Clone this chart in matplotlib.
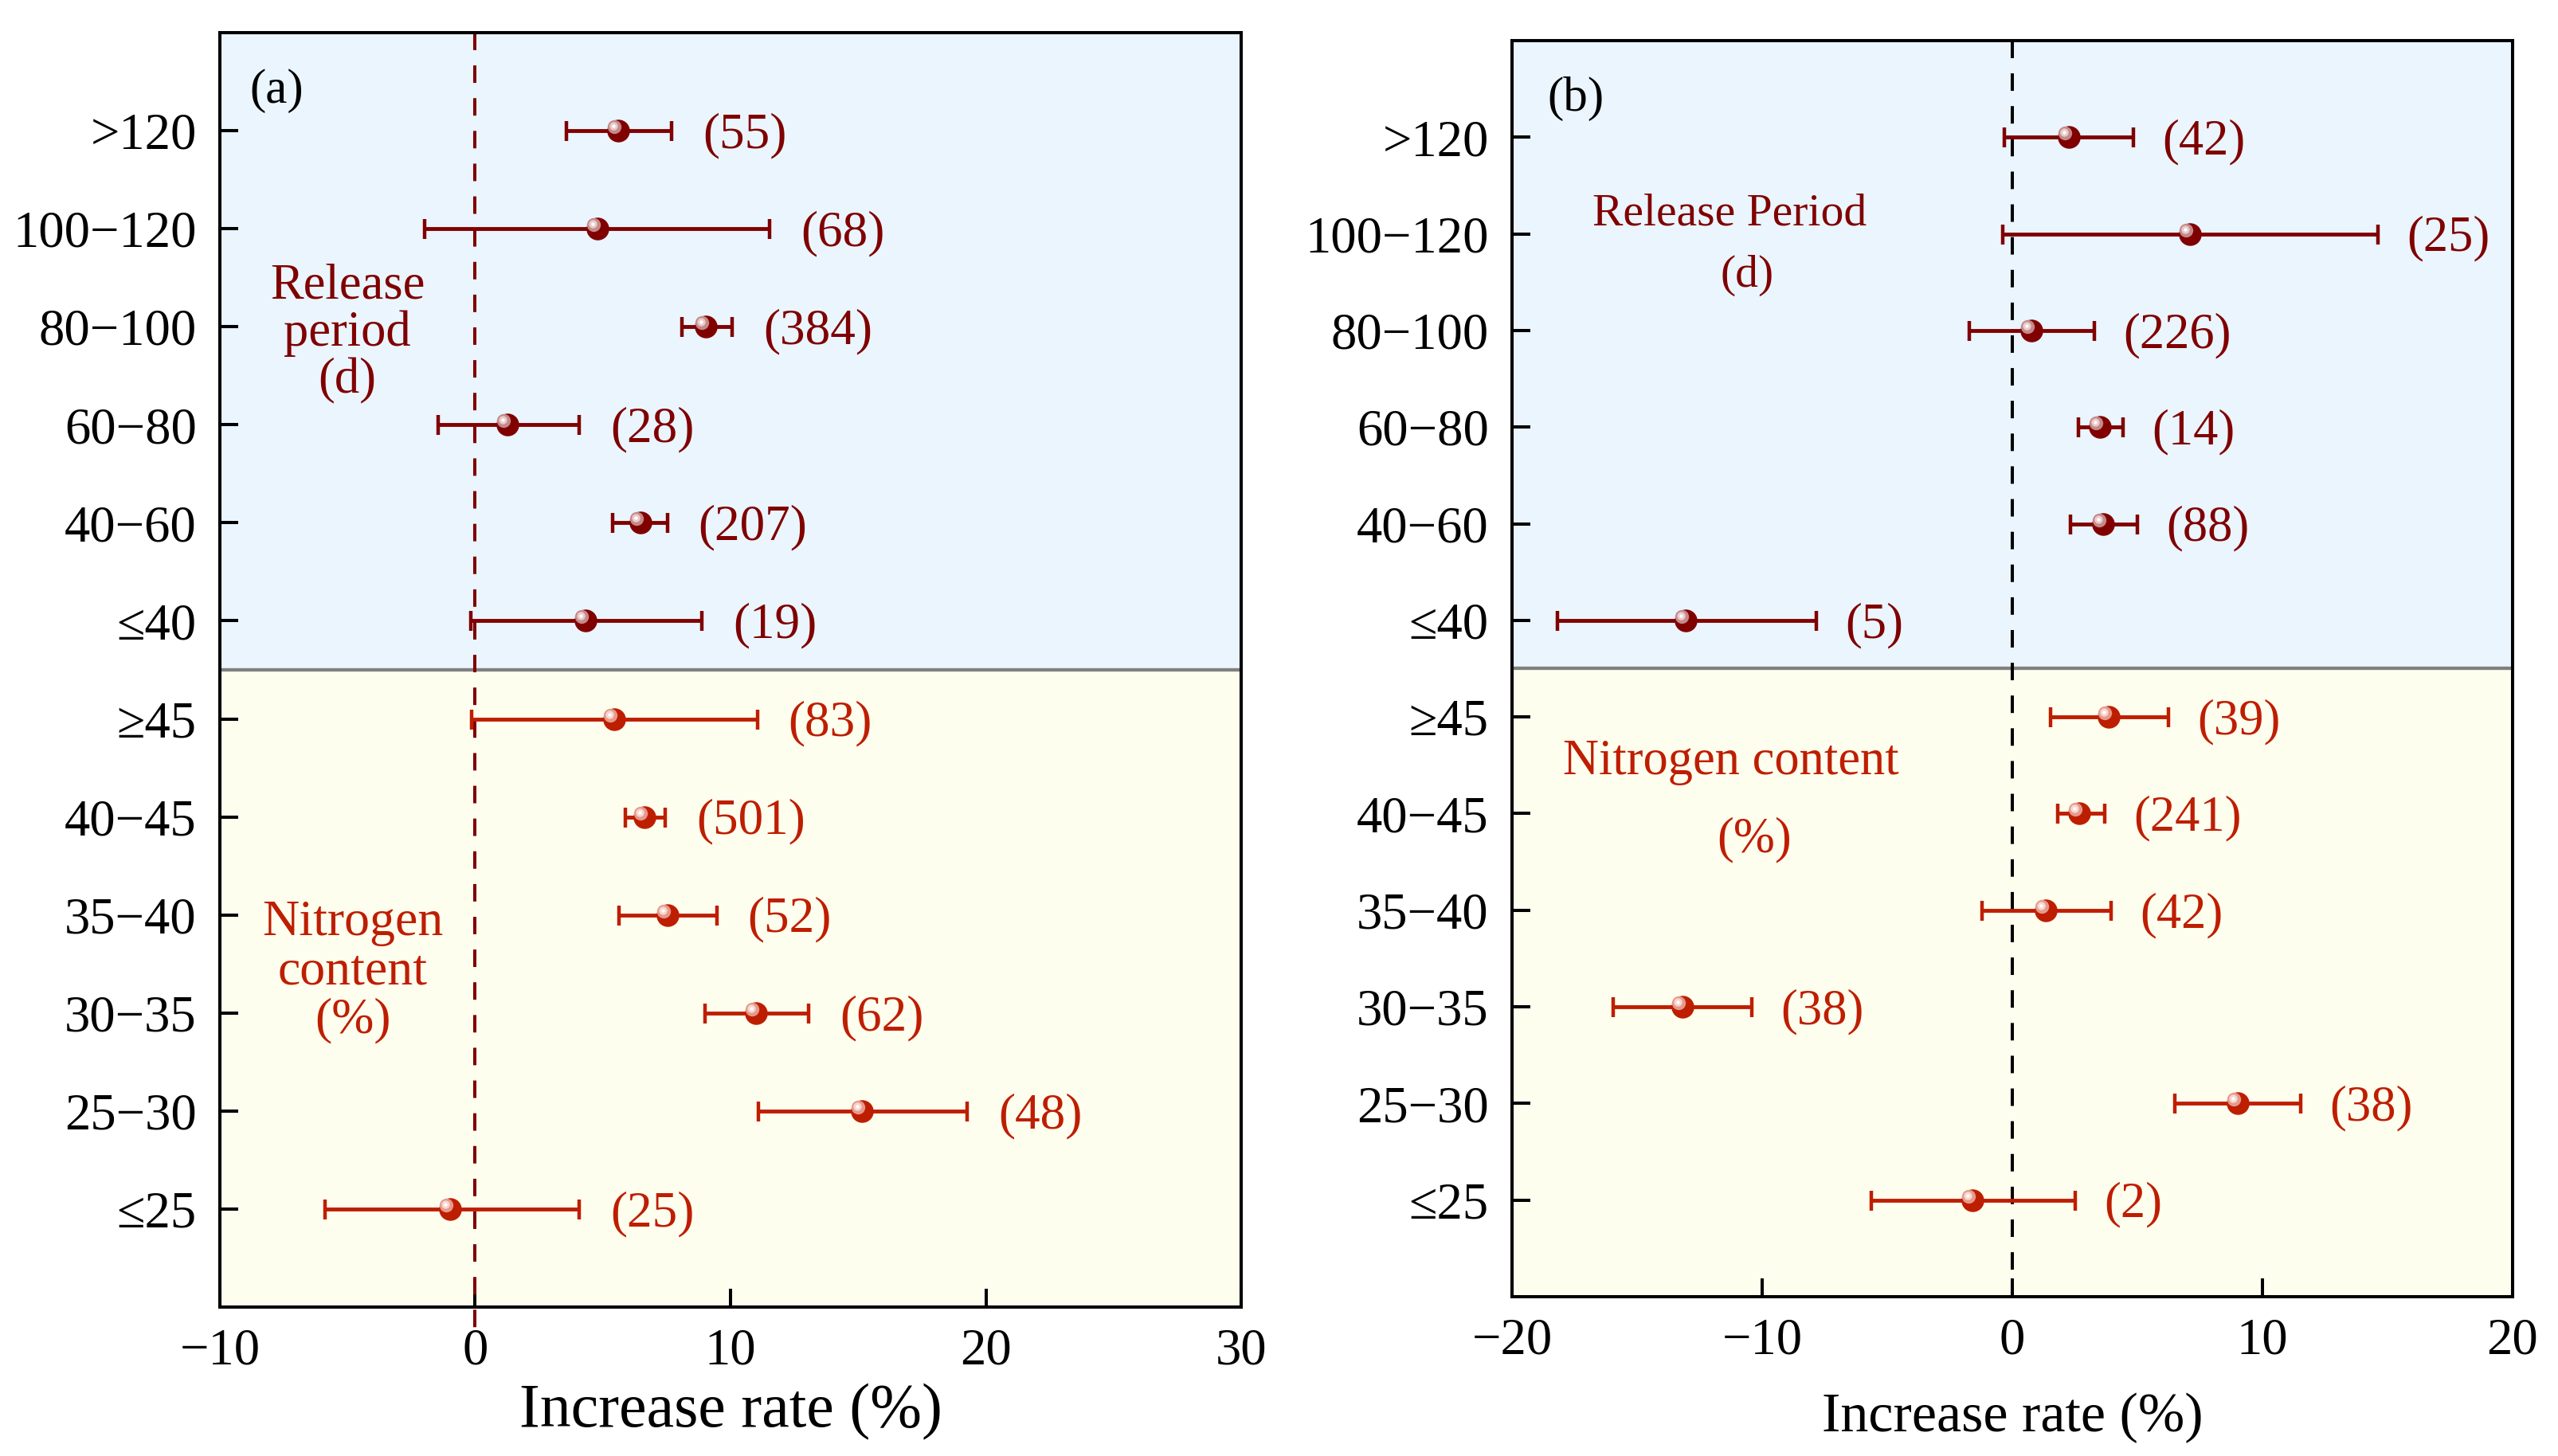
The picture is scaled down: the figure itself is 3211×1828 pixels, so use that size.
import matplotlib
matplotlib.use("Agg")
import matplotlib.pyplot as plt
from matplotlib.transforms import offset_copy
import numpy as np

plt.rcParams['font.family'] = ['Liberation Serif', 'DejaVu Serif']
plt.rcParams['lines.scale_dashes'] = False
plt.rcParams['axes.unicode_minus'] = True

# ---------------- data ----------------
categories = [">120", "100\u2212120", "80\u2212100", "60\u221280", "40\u221260", "\u226440",
              "\u226545", "40\u221245", "35\u221240", "30\u221235", "25\u221230", "\u226425"]

mean_a = [5.60, 4.78, 9.04, 1.27, 6.46, 4.33, 5.45, 6.62, 7.52, 10.99, 15.16, -0.99]
low_a = [3.57, -1.97, 8.09, -1.46, 5.38, -0.16, -0.13, 5.89, 5.64, 9.01, 11.08, -5.89]
high_a = [7.70, 11.53, 10.06, 4.08, 7.52, 8.89, 11.05, 7.45, 9.46, 13.06, 19.27, 4.08]
n_a = [55, 68, 384, 28, 207, 19, 83, 501, 52, 62, 48, 25]

mean_b = [2.26, 7.10, 0.75, 3.50, 3.63, -13.06, 3.86, 2.68, 1.34, -13.19, 9.00, -1.60]
low_b = [-0.33, -0.39, -1.73, 2.65, 2.32, -18.20, 1.54, 1.83, -1.21, -15.94, 6.51, -5.63]
high_b = [4.84, 14.63, 3.27, 4.42, 5.01, -7.82, 6.25, 3.70, 3.96, -10.41, 11.52, 2.52]
n_b = [42, 25, 226, 14, 88, 5, 39, 241, 42, 38, 38, 2]

groups = ["release"] * 6 + ["nitrogen"] * 6

# ---------------- style ----------------
C_REL = "#800000"
C_NIT = "#BE1E00"
HL_REL = ("#C48A8A", "#EBCACA")
HL_NIT = ("#E59A8C", "#F8D6CE")
BG_TOP = "#EAF5FE"
BG_BOT = "#FEFEEF"

W, H, DPI = 32.12, 18.28, 100
fig = plt.figure(figsize=(W, H), dpi=DPI)

ax_a = fig.add_axes([276 / 3212, 1 - 1641 / 1828, (1558 - 276) / 3212, (1641 - 41) / 1828])
ax_b = fig.add_axes([1898 / 3212, 1 - 1628 / 1828, (3154 - 1898) / 3212, (1628 - 51) / 1828])

ypos = np.arange(len(categories))[::-1]


def draw_panel(ax, mean, low, high, ns, xlim, xticks, zero_color, zero_extend,
               label_gap_pt, label_size, tag, tag_xy, xlabel_size, xlabel_y):
    mean = np.asarray(mean)
    low = np.asarray(low)
    high = np.asarray(high)
    ax.set_xlim(*xlim)
    ax.set_ylim(-1, 12)
    ax.axhspan(5.5, 12, color=BG_TOP, zorder=0, lw=0)
    ax.axhspan(-1, 5.5, color=BG_BOT, zorder=0, lw=0)
    ax.axhline(5.5, color="#808080", lw=3.1, zorder=1)

    # zero line
    ybot = -1 - zero_extend
    ax.plot([0, 0], [12, ybot], color=zero_color, lw=2.9, dashes=(15.8, 13.8),
            zorder=2, clip_on=False)

    hl_tr1 = offset_copy(ax.transData, fig=fig, x=-5, y=5, units="dots")
    hl_tr2 = offset_copy(ax.transData, fig=fig, x=-6, y=6, units="dots")
    for i, (m, lo, hi, n, g) in enumerate(zip(mean, low, high, ns, groups)):
        c = C_REL if g == "release" else C_NIT
        hl = HL_REL if g == "release" else HL_NIT
        y = ypos[i]
        ax.errorbar([m], [y], xerr=[[m - lo], [hi - m]], fmt="none", ecolor=c,
                    elinewidth=3.5, capsize=9, capthick=3.2, zorder=3)
        ax.plot([m], [y], "o", ms=20.5, color=c, mec=c, mew=0, zorder=4)
        ax.plot([m], [y], "o", ms=12.5, color=hl[0], mew=0, zorder=5, transform=hl_tr1)
        ax.plot([m], [y], "o", ms=7.5, color=hl[1], mew=0, zorder=6, transform=hl_tr2)
        ax.plot([m], [y], "o", ms=3.2, color="white", mew=0, zorder=7, transform=hl_tr2)
        ax.annotate(f"({n})", xy=(hi, y), xytext=(label_gap_pt, -4.5),
                    textcoords="offset points", ha="left", va="center",
                    fontsize=label_size, color=c, zorder=8)

    ax.set_yticks(ypos)
    ax.set_yticklabels(categories)
    ax.set_xticks(xticks)
    ax.tick_params(axis="both", direction="in", length=16.5, width=2.9,
                   labelsize=46.5, top=False, right=False)
    ax.tick_params(axis="y", pad=21)
    ax.tick_params(axis="x", pad=19)
    for s in ax.spines.values():
        s.set_linewidth(2.9)
        s.set_zorder(10)
    ax.text(tag_xy[0], tag_xy[1], tag, ha="center", va="center", fontsize=44,
            color="black", zorder=8)
    ax.set_xlabel("Increase rate (%)", fontsize=xlabel_size)
    ax.xaxis.set_label_coords(0.5, xlabel_y)
    ax.xaxis.label.set_va("center")


draw_panel(ax_a, mean_a, low_a, high_a, n_a, (-10, 30), [-10, 0, 10, 20, 30],
           C_REL, 0.21, 28, 45.5, "(a)", (-7.78, 11.41), 56, -0.0825)
draw_panel(ax_b, mean_b, low_b, high_b, n_b, (-20, 20), [-20, -10, 0, 10, 20],
           "black", 0.0, 26, 45, "(b)", (-17.45, 11.40), 50.5, -0.0964)

# group annotations
ax_a.text(-5.0, 8.93, "Release\nperiod\n(d)", ha="center", va="center", fontsize=45,
          color=C_REL, linespacing=1.03, zorder=8)
ax_a.text(-4.8, 2.42, "Nitrogen\ncontent\n(%)", ha="center", va="center", fontsize=46,
          color=C_NIT, linespacing=1.08, zorder=8)

ax_b.text(-11.3, 10.21, "Release Period", ha="center", va="center", fontsize=41.5,
          color=C_REL, zorder=8)
ax_b.text(-10.6, 9.57, "(d)", ha="center", va="center", fontsize=41.5,
          color=C_REL, zorder=8)
ax_b.text(-11.25, 4.53, "Nitrogen content", ha="center", va="center", fontsize=45,
          color=C_NIT, zorder=8)
ax_b.text(-10.3, 3.73, "(%)", ha="center", va="center", fontsize=45,
          color=C_NIT, zorder=8)

fig.savefig("out.png", dpi=DPI, facecolor="white")
